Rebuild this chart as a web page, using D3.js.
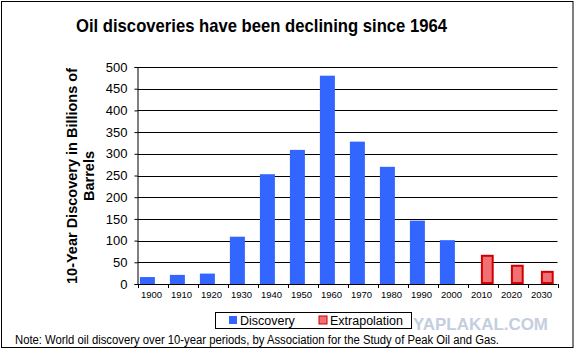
<!DOCTYPE html>
<html><head><meta charset="utf-8">
<script src="https://cdn.jsdelivr.net/npm/d3@7"></script>
<style>body{margin:0;background:#fff;}svg{display:block;font-family:"Liberation Sans",Arial,sans-serif;}</style>
</head><body>
<svg id="c" width="576" height="355"></svg>
<script>
const years = ["1900","1910","1920","1930","1940","1950","1960","1970","1980","1990","2000","2010","2020","2030"];
const discovery = [16,21,24,109,253,309,480,328,270,146,101,null,null,null];
const extrapolation = [null,null,null,null,null,null,null,null,null,null,null,65,42,28];
const yTicks = [0,50,100,150,200,250,300,350,400,450,500];
const title = "Oil discoveries have been declining since 1964";
const yTitle = ["10-Year Discovery in Billions of","Barrels"];
const note = "Note: World oil discovery over 10-year periods, by Association for the Study of Peak Oil and Gas.";
const seriesNames = ["Discovery","Extrapolation"];

const svg = d3.select("#c");
svg.append("rect").attr("x",1.5).attr("y",1.5).attr("width",571.5).attr("height",346).attr("fill","#fff").attr("stroke","#000").attr("stroke-width",1);

const L=137.5, R=557.5, T=67, B=284;
const x = d3.scaleBand().domain(years).range([L,R]).padding(0);
const y = d3.scaleLinear().domain([0,500]).range([B,T]);
const bw = x.bandwidth();

svg.append("text").attr("x",76).attr("y",32).attr("font-size",18.5).attr("font-weight","bold").attr("textLength",371).attr("lengthAdjust","spacingAndGlyphs").text(title);

// gridlines
svg.append("g").selectAll("line").data(yTicks.filter(d=>d>0)).join("line")
  .attr("x1",L).attr("x2",R).attr("y1",d=>Math.round(y(d))+0.5).attr("y2",d=>Math.round(y(d))+0.5)
  .attr("stroke","#000").attr("stroke-width",1.2);

// y axis
const ya = svg.append("g").attr("transform",`translate(${L},0)`).call(d3.axisLeft(y).tickValues(yTicks).tickSize(3).tickPadding(7));
ya.select(".domain").attr("stroke","#000");
ya.selectAll("text").attr("font-size",13).attr("fill","#000").attr("font-family","Liberation Sans, Arial, sans-serif");
ya.selectAll(".tick line").attr("stroke","#000");

// bars
svg.append("g").selectAll("rect").data(years.map((d,i)=>({k:d,v:discovery[i]})).filter(d=>d.v!=null)).join("rect")
  .attr("x",d=>x(d.k)+bw*0.08).attr("width",bw*0.5)
  .attr("y",d=>y(d.v)).attr("height",d=>y(0)-y(d.v)).attr("fill","#3366ff");
svg.append("g").selectAll("rect").data(years.map((d,i)=>({k:d,v:extrapolation[i]})).filter(d=>d.v!=null)).join("rect")
  .attr("x",d=>x(d.k)+bw*0.48).attr("width",bw*0.36)
  .attr("y",d=>y(d.v)).attr("height",d=>y(0)-y(d.v)-1).attr("fill","#f07074").attr("stroke","#d00000").attr("stroke-width",2);

// x axis
const xa = svg.append("g").attr("transform",`translate(0,${B})`);
xa.append("line").attr("x1",L).attr("x2",R).attr("y1",0.5).attr("y2",0.5).attr("stroke","#000");
xa.selectAll("line.tk").data(d3.range(years.length+1)).join("line").attr("class","tk")
  .attr("x1",i=>Math.round(L+i*bw)+0.5).attr("x2",i=>Math.round(L+i*bw)+0.5).attr("y1",0).attr("y2",4).attr("stroke","#000");
xa.selectAll("text").data(years).join("text").attr("x",d=>x(d)+bw/2-1).attr("y",14).attr("text-anchor","middle").attr("font-size",9.5).text(d=>d);

// y title
const yt = svg.append("text").attr("transform","translate(72,176) rotate(-90)").attr("text-anchor","middle").attr("font-size",14.5).attr("font-weight","bold");
yt.append("tspan").attr("x",0).attr("dy","0.35em").text(yTitle[0]);
yt.append("tspan").attr("x",0).attr("dy","1.2em").text(yTitle[1]);

// watermark
svg.append("text").attr("x",413).attr("y",330).attr("font-size",16.5).attr("font-weight","bold").attr("fill","#c4cede").attr("textLength",135).attr("lengthAdjust","spacingAndGlyphs").text("YAPLAKAL.COM");

// legend
const lg = svg.append("g");
lg.append("rect").attr("x",215.5).attr("y",312.5).attr("width",196).attr("height",16).attr("fill","#fff").attr("stroke","#000");
const colors=[["#3366ff","none"],["#f07074","#d00000"]];
const lx=[229,319];
seriesNames.forEach((s,i)=>{
  lg.append("rect").attr("x",lx[i]).attr("y",316).attr("width",8).attr("height",8).attr("fill",colors[i][0]).attr("stroke",colors[i][1]);
  lg.append("text").attr("x",lx[i]+11).attr("y",325).attr("font-size",12.5).text(s);
});

svg.append("text").attr("x",15).attr("y",344).attr("font-size",12.3).attr("textLength",484).attr("lengthAdjust","spacingAndGlyphs").text(note);
</script>
</body></html>
